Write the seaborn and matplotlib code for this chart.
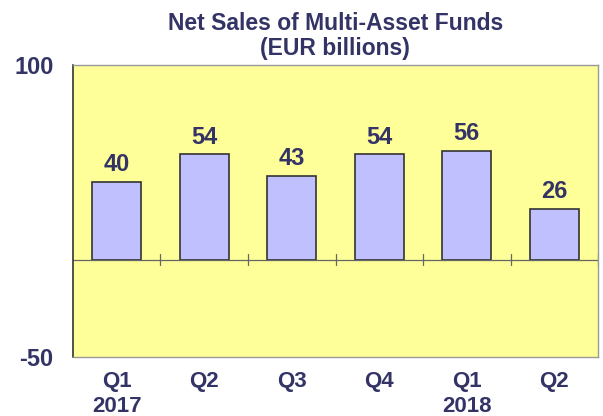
import matplotlib
matplotlib.use("Agg")
import matplotlib.pyplot as plt
import numpy as np
import pandas as pd
import seaborn as sns

QUARTERS = ["Q1\n2017", "Q2", "Q3", "Q4", "Q1\n2018", "Q2"]
NET_SALES = [40, 54, 43, 54, 56, 26]

NAVY = "#333366"

sns.set_style("white")
plt.rcParams["font.family"] = ["Liberation Sans", "DejaVu Sans"]

df = pd.DataFrame({"pos": range(len(QUARTERS)), "sales": NET_SALES})

fig = plt.figure(figsize=(6.03, 4.16), dpi=100)
ax = fig.add_axes([0.121, 0.142, 0.871, 0.702])
ax.set_facecolor("#FFFF99")

sns.barplot(data=df, x="pos", y="sales", color="#C0C0FF", saturation=1,
            width=0.56, edgecolor="#333333", linewidth=1.2, ax=ax)

for i, v in enumerate(NET_SALES):
    ax.text(i, v + 3, str(v), ha="center", va="bottom", fontsize=17,
            fontweight="bold", color=NAVY)

ax.set_ylim(-50, 100)
ax.set_xlim(-0.5, len(QUARTERS) - 0.5)
ax.set_yticks([-50, 100])
ax.set_yticklabels(["-50", "100"], fontsize=17, fontweight="bold", color=NAVY)
ax.set_xticks(range(len(QUARTERS)))
ax.set_xticklabels(QUARTERS, fontsize=16, fontweight="bold", color=NAVY,
                   linespacing=1.25)
ax.tick_params(axis="x", length=0, pad=10)
ax.tick_params(axis="y", length=5, color="#999999", width=1, pad=9)
ax.set_xlabel("")
ax.set_ylabel("")

# zero line with category separators
ax.axhline(0, color="#666666", linewidth=0.9)
for b in np.arange(0.5, len(QUARTERS), 1.0):
    ax.plot([b, b], [-3, 3], color="#666666", linewidth=0.9)

for side in ["top", "right", "bottom"]:
    ax.spines[side].set_color("#999999")
    ax.spines[side].set_linewidth(1)
ax.spines["left"].set_color("#333333")
ax.spines["left"].set_linewidth(1.2)

fig.text(0.556, 0.972, "Net Sales of Multi-Asset Funds\n(EUR billions)",
         ha="center", va="top", fontsize=16.5, fontweight="bold", color=NAVY,
         linespacing=1.15)

fig.savefig("out.png", dpi=100)
